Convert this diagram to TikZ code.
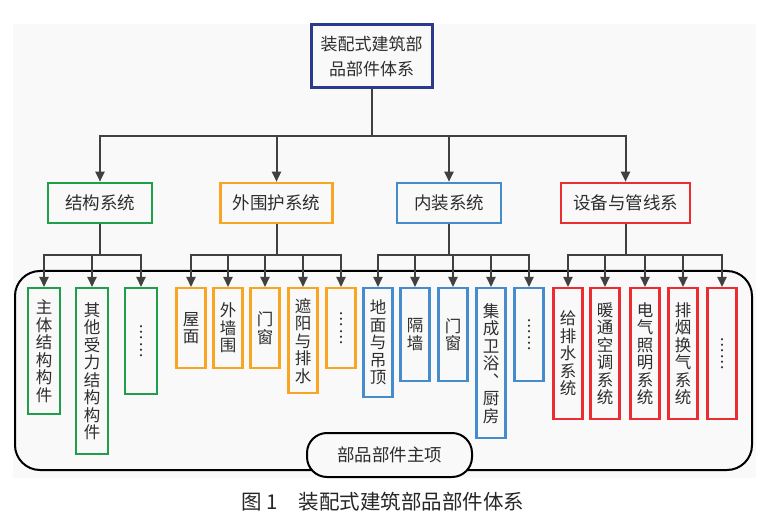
\documentclass[tikz,border=0pt]{standalone}
\usepackage{fontspec}
\setmainfont{Noto Sans CJK SC}
\usepackage{tikz}
\usetikzlibrary{arrows.meta}
\definecolor{rootblue}{RGB}{43,58,140}
\definecolor{jggreen}{RGB}{30,160,75}
\definecolor{whorange}{RGB}{247,165,35}
\definecolor{nzblue}{RGB}{70,140,205}
\definecolor{sbred}{RGB}{235,45,50}
\definecolor{linegray}{RGB}{64,64,64}
\definecolor{txtgray}{RGB}{45,45,45}
\definecolor{bggray}{RGB}{249,249,249}
\tikzset{
  sysbox/.style={draw,line width=2.6pt,minimum height=40pt,minimum width=104pt,inner xsep=12pt,text=txtgray,font=\fontsize{17.5}{19}\selectfont},
  leafbox/.style={draw,line width=2.4pt,anchor=north,minimum width=29pt,inner sep=0pt,align=center,text=txtgray,font=\fontsize{16.5}{17.5}\selectfont},
  conn/.style={draw=linegray,line width=2pt,-{Triangle[length=10pt,width=9pt]}},
}

\begin{document}
\begin{tikzpicture}[x=1pt,y=-1pt]
\useasboundingbox (0,0) rectangle (768,529);
\fill[bggray] (13,24) rectangle (756,478);
\draw[line width=2pt,rounded corners=25pt] (15,271) rectangle (752,470);

\node[draw=rootblue,line width=3pt,minimum width=121pt,minimum height=63pt,align=center,text=txtgray,font=\fontsize{17}{25}\selectfont] (root) at (371.5,56.5) {装配式建筑部\\品部件体系};

\node[sysbox,draw=jggreen] (jiegou) at (100,203) {结构系统};
\node[sysbox,draw=whorange] (weihu) at (276.5,203) {外围护系统};
\node[sysbox,draw=nzblue] (neizhuang) at (449,203) {内装系统};
\node[sysbox,draw=sbred] (shebei) at (625.5,203) {设备与管线系};

\node[leafbox,draw=jggreen,minimum width=32pt,minimum height=126pt] (j1) at (44,287) {主\\体\\结\\构\\构\\件};
\node[leafbox,draw=jggreen,minimum width=32pt,minimum height=166pt] (j2) at (92,287) {其\\他\\受\\力\\结\\构\\构\\件};
\node[leafbox,draw=jggreen,minimum width=32pt,minimum height=106pt] (j3) at (141,287) {︙\\︙};

\node[leafbox,draw=whorange,minimum height=80pt] (w1) at (191,287) {屋\\面};
\node[leafbox,draw=whorange,minimum height=80pt] (w2) at (228,287) {外\\墙\\围};
\node[leafbox,draw=whorange,minimum height=80pt] (w3) at (265,287) {门\\窗};
\node[leafbox,draw=whorange,minimum height=105pt] (w4) at (303,287) {遮\\阳\\与\\排\\水};
\node[leafbox,draw=whorange,minimum height=80pt] (w5) at (341,287) {︙\\︙};

\node[leafbox,draw=nzblue,minimum height=109pt] (n1) at (378,287) {地\\面\\与\\吊\\顶};
\node[leafbox,draw=nzblue,minimum height=93pt] (n2) at (415,287) {隔\\墙};
\node[leafbox,draw=nzblue,minimum height=93pt] (n3) at (453,287) {门\\窗};
\node[leafbox,draw=nzblue,minimum height=150pt] (n4) at (491,287) {集\\成\\卫\\浴\\︑\\厨\\房};
\node[leafbox,draw=nzblue,minimum height=93pt] (n5) at (529,287) {︙\\︙};

\node[leafbox,draw=sbred,minimum height=131pt] (s1) at (568,287) {给\\排\\水\\系\\统};
\node[leafbox,draw=sbred,minimum height=131pt] (s2) at (605,287) {暖\\通\\空\\调\\系\\统};
\node[leafbox,draw=sbred,minimum height=131pt] (s3) at (645,287) {电\\气\\照\\明\\系\\统};
\node[leafbox,draw=sbred,minimum height=131pt] (s4) at (683,287) {排\\烟\\换\\气\\系\\统};
\node[leafbox,draw=sbred,minimum height=131pt] (s5) at (722,287) {︙\\︙};

\foreach \c in {jiegou,weihu,neizhuang,shebei}
  \draw[conn] (root.south) -- ++(0,47) -| (\c.north);
\foreach \l in {j1,j2,j3}
  \draw[conn] (jiegou.south) -- ++(0,31) -| (\l.north);
\foreach \l in {w1,w2,w3,w4,w5}
  \draw[conn] (weihu.south) -- ++(0,31) -| (\l.north);
\foreach \l in {n1,n2,n3,n4,n5}
  \draw[conn] (neizhuang.south) -- ++(0,31) -| (\l.north);
\foreach \l in {s1,s2,s3,s4,s5}
  \draw[conn] (shebei.south) -- ++(0,31) -| (\l.north);

\node[draw,line width=2pt,rounded corners=20pt,fill=bggray,minimum width=165pt,minimum height=44pt,text=txtgray,font=\fontsize{17.5}{19}\selectfont] (zhuxiang) at (389.5,455) {部品部件主项};

\node[font=\fontsize{20.5}{22}\selectfont,text=black!85] (caption) at (383,502) {图 1\quad 装配式建筑部品部件体系};
\end{tikzpicture}
\end{document}
